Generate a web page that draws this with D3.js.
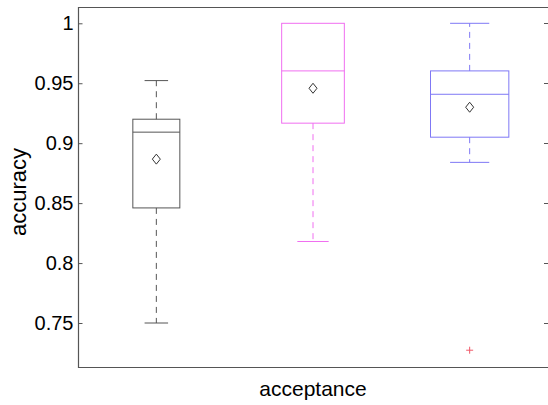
<!DOCTYPE html>
<html>
<head>
<meta charset="utf-8">
<title>accuracy boxplot</title>
<script src="https://d3js.org/d3.v7.min.js"></script>
<style>
  body { margin: 0; background: #fff; }
  text { font-family: "Liberation Sans", Arial, Helvetica, sans-serif; }
</style>
</head>
<body>
<svg width="548" height="405"></svg>
<script>
// data
var groups = [1, 2, 3];
var q1 = [0.846, 0.9167, 0.905];
var median = [0.9092, 0.9603, 0.9408];
var q3 = [0.92, 1.0, 0.9603];
var whiskerLow = [0.75, 0.818, 0.884];
var whiskerHigh = [0.9522, 1.0, 1.0];
var means = [0.8867, 0.9458, 0.93];
var outliers = [{g: 3, v: 0.7273}];
var boxWidth = [0.3, 0.4, 0.5];
var colors = ["#555555", "#f06ef0", "#7f78f5"];
var yTicks = [0.75, 0.8, 0.85, 0.9, 0.95, 1];

var svg = d3.select("svg");
var plotLeft = 78, plotRight = 548, plotTop = 7, plotBottom = 367;

var x = d3.scaleLinear().domain([0.5, 3.5]).range([plotLeft, plotRight]);
var y = d3.scaleLinear().domain([0.7133, 1.0136]).range([plotBottom, plotTop]);

// axes frame
svg.append("line").attr("x1", plotLeft).attr("x2", plotRight).attr("y1", plotTop + 0.5).attr("y2", plotTop + 0.5)
    .attr("stroke", "#555").attr("stroke-width", 1.2);
svg.append("line").attr("x1", plotLeft).attr("x2", plotRight).attr("y1", plotBottom + 0.5).attr("y2", plotBottom + 0.5)
    .attr("stroke", "#555").attr("stroke-width", 1.2);
svg.append("line").attr("x1", plotLeft + 0.5).attr("x2", plotLeft + 0.5).attr("y1", plotTop).attr("y2", plotBottom + 1)
    .attr("stroke", "#555").attr("stroke-width", 1.2);

// y ticks (inside, both sides) and labels
var yAxis = d3.axisLeft(y).tickValues(yTicks).tickSize(-4).tickPadding(5)
    .tickFormat(function(d) { return String(+d.toFixed(2)); });
var ga = svg.append("g").attr("transform", "translate(" + (plotLeft + 0.5) + ",0)").call(yAxis);
ga.select(".domain").remove();
ga.selectAll(".tick line").attr("stroke", "#555");
ga.selectAll(".tick text").attr("font-size", 20).attr("fill", "#000")
    .attr("font-family", "'Liberation Sans', Arial, sans-serif");

svg.selectAll(".rtick").data(yTicks).enter().append("line")
    .attr("x1", plotRight - 4).attr("x2", plotRight)
    .attr("y1", function(d) { return Math.round(y(d)) + 0.5; })
    .attr("y2", function(d) { return Math.round(y(d)) + 0.5; })
    .attr("stroke", "#555");

// boxes
groups.forEach(function(g, i) {
    var cx = x(g);
    var hw = (x(boxWidth[i]) - x(0)) / 2;
    var cw = hw / 2;
    var c = colors[i];
    var gg = svg.append("g");

    // whiskers (dashed)
    if (whiskerHigh[i] > q3[i]) {
        gg.append("line").attr("x1", cx).attr("x2", cx).attr("y1", y(q3[i])).attr("y2", y(whiskerHigh[i]))
            .attr("stroke", c).attr("stroke-dasharray", "6,5");
    }
    gg.append("line").attr("x1", cx).attr("x2", cx).attr("y1", y(q1[i])).attr("y2", y(whiskerLow[i]))
        .attr("stroke", c).attr("stroke-dasharray", "6,5");
    // caps
    var caps = whiskerHigh[i] > q3[i] ? [whiskerHigh[i], whiskerLow[i]] : [whiskerLow[i]];
    caps.forEach(function(v) {
        gg.append("line").attr("x1", cx - cw).attr("x2", cx + cw).attr("y1", y(v)).attr("y2", y(v))
            .attr("stroke", c);
    });
    // box
    gg.append("rect").attr("x", cx - hw).attr("y", y(q3[i]))
        .attr("width", 2 * hw).attr("height", y(q1[i]) - y(q3[i]))
        .attr("fill", "none").attr("stroke", c);
    // median
    gg.append("line").attr("x1", cx - hw).attr("x2", cx + hw).attr("y1", y(median[i])).attr("y2", y(median[i]))
        .attr("stroke", c);
    // mean diamond
    var m = y(means[i]);
    gg.append("path").attr("d", "M" + cx + "," + (m - 5) + "L" + (cx + 4) + "," + m + "L" + cx + "," + (m + 5) + "L" + (cx - 4) + "," + m + "Z")
        .attr("fill", "none").attr("stroke", "#333");
});

// outliers
outliers.forEach(function(o) {
    var ox = x(o.g), oy = y(o.v);
    svg.append("path").attr("d", "M" + (ox - 3.5) + "," + oy + "H" + (ox + 3.5) + "M" + ox + "," + (oy - 3.5) + "V" + (oy + 3.5))
        .attr("stroke", "#f05a6a").attr("stroke-width", 1);
});

// labels
svg.append("text").attr("x", (plotLeft + plotRight) / 2).attr("y", 396).attr("text-anchor", "middle")
    .attr("font-size", 21).text("acceptance");
svg.append("text").attr("transform", "translate(26,192) rotate(-90)")
    .attr("text-anchor", "middle").attr("font-size", 22).text("accuracy");
</script>
</body>
</html>
